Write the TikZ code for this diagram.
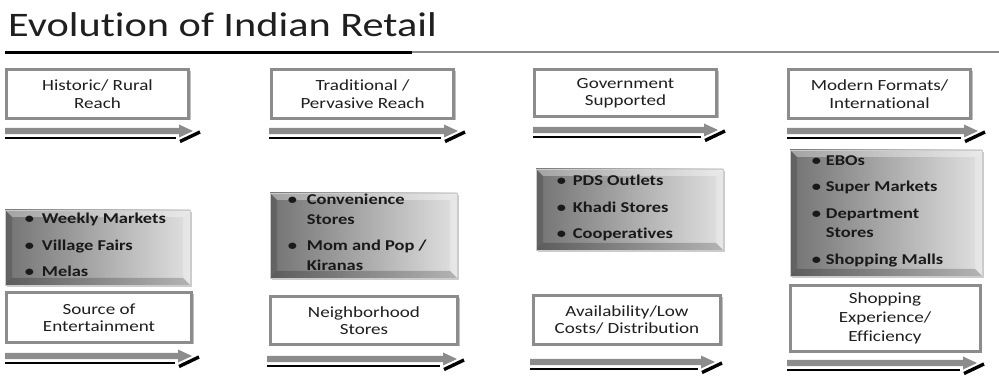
\documentclass[tikz,border=0pt]{standalone}
\usepackage{fontspec}
\setmainfont{Carlito}[FakeStretch=1.23, Ligatures=CommonOff]
\usetikzlibrary{calc,shadows}
\definecolor{bargray}{gray}{0.55}
\definecolor{framegray}{gray}{0.55}
\definecolor{inkgray}{gray}{0.12}
\tikzset{
	labelbox/.style={draw=framegray, line width=3pt, fill=white, align=center, inner sep=0pt, text=inkgray,
		font=\fontsize{15.5}{17.5}\selectfont,
		drop shadow={shadow xshift=2pt, shadow yshift=-2pt, opacity=0.5, fill=gray}},
	listbox/.style={draw=white!80!black, line width=0.6pt, inner sep=0pt,
		left color=black!55, right color=black!12,
		drop shadow={shadow xshift=2pt, shadow yshift=-2pt, opacity=0.4, fill=gray},
		path picture={
			\fill[white, opacity=0.35] (path picture bounding box.north west) -- (path picture bounding box.north east) -- ($(path picture bounding box.north east)+(-7,-7)$) -- ($(path picture bounding box.north west)+(7,-7)$) -- cycle;
			\fill[white, opacity=0.25] (path picture bounding box.north east) -- (path picture bounding box.south east) -- ($(path picture bounding box.south east)+(-7,7)$) -- ($(path picture bounding box.north east)+(-7,-7)$) -- cycle;
			\fill[black, opacity=0.2] (path picture bounding box.south west) -- (path picture bounding box.south east) -- ($(path picture bounding box.south east)+(-7,7)$) -- ($(path picture bounding box.south west)+(7,7)$) -- cycle;
			\fill[black, opacity=0.15] (path picture bounding box.north west) -- (path picture bounding box.south west) -- ($(path picture bounding box.south west)+(7,7)$) -- ($(path picture bounding box.north west)+(7,-7)$) -- cycle;
		}},
	listtext/.style={anchor=west, inner sep=0pt, text=black!90, font=\fontsize{15}{19.5}\bfseries\selectfont},
}
% grey bar with head, black under-stroke and slanted foot
\def\timebar(#1)(#2){
	\fill[bargray] ($(#1)+(0,3.2)$) -- ($(#2)+(-14,3.2)$) -- ($(#2)+(-14,6.5)$) -- (#2) -- ($(#2)+(-14,-6.5)$) -- ($(#2)+(-14,-3.2)$) -- ($(#1)+(0,-3.2)$) -- cycle;
	\draw[line width=2.4pt] ($(#1)+(0,-7)$) -- ($(#2)+(-17,-7)$);
	\draw[line width=3.4pt] ($(#2)+(-13,-10.5)$) -- ($(#2)+(7,-1)$);
}

\begin{document}
\begin{tikzpicture}[x=1pt, y=1pt]
	\useasboundingbox (0,0) rectangle (999,375);
	
	%%%%% TITLE %%%%%
	\node[anchor=base west, inner sep=0pt, text=inkgray, font=\fontsize{34.4}{40}\selectfont] (title) at (8,338) {Evolution of Indian Retail};
	\draw[line width=3pt] (5,322.5) -- (412,322.5);
	\draw[line width=2pt, color=black!45] (412,322.5) -- (999,322.5);
	
	%%%%% TOP ROW %%%%%
	\node[labelbox, minimum width=182pt, minimum height=49pt] (t1) at (97.5,281) {Historic/ Rural\\Reach};
	\node[labelbox, minimum width=182pt, minimum height=49pt] (t2) at (362.5,281) {Traditional /\\Pervasive Reach};
	\node[labelbox, minimum width=182pt, minimum height=47pt] (t3) at (625.5,282) {Government\\Supported};
	\node[labelbox, minimum width=182pt, minimum height=49pt] (t4) at (879.5,281) {Modern Formats/\\International};
	
	\coordinate (ta1) at (5,244);   \coordinate (tz1) at (193,244);
	\coordinate (ta2) at (269,244); \coordinate (tz2) at (458,244);
	\coordinate (ta3) at (533,245); \coordinate (tz3) at (718,245);
	\coordinate (ta4) at (787,244); \coordinate (tz4) at (978,244);
	\timebar(ta1)(tz1)
	\timebar(ta2)(tz2)
	\timebar(ta3)(tz3)
	\timebar(ta4)(tz4)
	
	%%%%% MIDDLE ROW %%%%%
	\node[listbox, minimum width=185pt, minimum height=75pt] (m1) at (97.5,127.5) {};
	\node[listtext] (m1list) at ($(m1.west)+(20,1)$) {\begin{tabular}{@{}p{17pt}@{}l@{}}
		\textbullet & Weekly Markets\\[7pt]
		\textbullet & Village Fairs\\[7pt]
		\textbullet & Melas
	\end{tabular}};
	
	\node[listbox, minimum width=187pt, minimum height=85pt] (m2) at (363.5,139.5) {};
	\node[listtext] (m2list) at ($(m2.west)+(18,2)$) {\begin{tabular}{@{}p{19pt}@{}l@{}}
		\textbullet & Convenience\\
		 & Stores\\[7pt]
		\textbullet & Mom and Pop /\\
		 & Kiranas
	\end{tabular}};
	
	\node[listbox, minimum width=187pt, minimum height=81pt] (m3) at (629.5,165.5) {};
	\node[listtext] (m3list) at ($(m3.west)+(21,1)$) {\begin{tabular}{@{}p{16pt}@{}l@{}}
		\textbullet & PDS Outlets\\[7pt]
		\textbullet & Khadi Stores\\[7pt]
		\textbullet & Cooperatives
	\end{tabular}};
	
	\node[listbox, minimum width=192pt, minimum height=126pt] (m4) at (886,162) {};
	\node[listtext] (m4list) at ($(m4.west)+(22,2)$) {\begin{tabular}{@{}p{14pt}@{}l@{}}
		\textbullet & EBOs\\[7pt]
		\textbullet & Super Markets\\[7pt]
		\textbullet & Department\\
		 & Stores\\[7pt]
		\textbullet & Shopping Malls
	\end{tabular}};
	
	%%%%% BOTTOM ROW %%%%%
	\node[labelbox, minimum width=185pt, minimum height=50pt] (b1) at (99,57.5) {Source of\\Entertainment};
	\node[labelbox, minimum width=187pt, minimum height=48pt] (b2) at (364,54.5) {Neighborhood\\Stores};
	\node[labelbox, minimum width=187pt, minimum height=49pt] (b3) at (627,55) {Availability/Low\\Costs/ Distribution};
	\node[labelbox, minimum width=190pt, minimum height=66pt, font=\fontsize{15.5}{19}\selectfont] (b4) at (885,56.5) {Shopping\\Experience/\\Efficiency};
	
	\coordinate (ba1) at (5,19);   \coordinate (bz1) at (192,19);
	\coordinate (ba2) at (267,16); \coordinate (bz2) at (457,16);
	\coordinate (ba3) at (530,13); \coordinate (bz3) at (715,13);
	\coordinate (ba4) at (787,12); \coordinate (bz4) at (977,12);
	\timebar(ba1)(bz1)
	\timebar(ba2)(bz2)
	\timebar(ba3)(bz3)
	\timebar(ba4)(bz4)
\end{tikzpicture}
\end{document}
